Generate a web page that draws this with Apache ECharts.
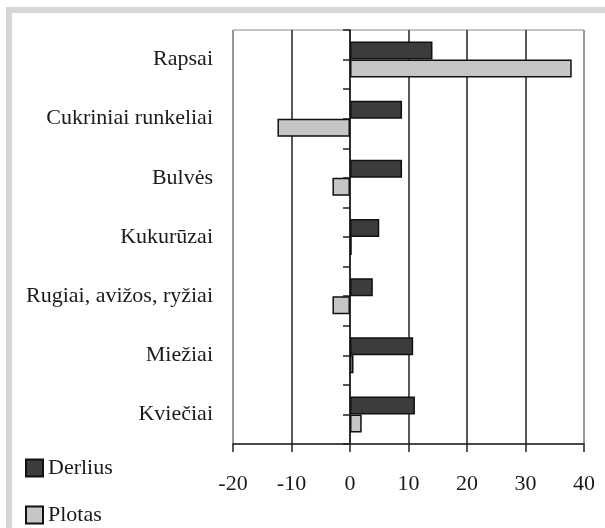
<!DOCTYPE html>
<html>
<head>
<meta charset="utf-8">
<script src="https://cdn.jsdelivr.net/npm/echarts@6/dist/echarts.min.js"></script>
<style>
  html, body { margin: 0; padding: 0; background: #fff; }
  #main { width: 605px; height: 528px; }
</style>
</head>
<body>
<div id="main"></div>
<script>
// categories top to bottom
const crops = ["Rapsai", "Cukriniai runkeliai", "Bulvės", "Kukurūzai", "Rugiai, avižos, ryžiai", "Miežiai", "Kviečiai"];
const derlius = [14.1, 8.9, 8.9, 5.0, 3.9, 10.8, 11.1];
const plotas = [37.9, -12.4, -3.0, 0.3, -3.0, 0.6, 2.0];
const xTicks = { min: -20, max: 40, interval: 10 };

const font = "'Liberation Serif', 'Times New Roman', serif";

// one legend per entry so they stack at the bottom-left
const legendBase = {
  left: 25,
  padding: 0,
  itemWidth: 17,
  itemHeight: 17,
  icon: "rect",
  textStyle: { fontFamily: font, fontSize: 22, color: "#1a1a1a" },
};

let option = {
  backgroundColor: "#fff",
  animation: false,
  // grey frame of the scanned figure (only top and left visible)
  graphic: [
    { type: "rect", left: 6, top: 7, shape: { width: 599, height: 6 }, style: { fill: "#d6d6d6" } },
    { type: "rect", left: 6, top: 7, shape: { width: 6, height: 521 }, style: { fill: "#d6d6d6" } },
  ],
  grid: {
    left: 233,
    right: 21,
    top: 30,
    bottom: 84,
    show: true,
    borderColor: "#8a8a8a",
    borderWidth: 1,
  },
  legend: [
    Object.assign({}, legendBase, { top: 457, data: ["Derlius"] }),
    Object.assign({}, legendBase, { top: 504, data: ["Plotas"] }),
  ],
  xAxis: {
    type: "value",
    min: xTicks.min,
    max: xTicks.max,
    interval: xTicks.interval,
    axisLine: { lineStyle: { color: "#222", width: 1.5 } },
    axisTick: { show: true, length: 8, lineStyle: { color: "#222", width: 1.5 } },
    axisLabel: { fontFamily: font, fontSize: 22, color: "#1a1a1a", margin: 29 },
    splitLine: {
      show: true,
      lineStyle: { color: ["#8a8a8a", "#222", "#222", "#222", "#222", "#222", "#8a8a8a"], width: 1.5 },
    },
  },
  yAxis: [
    {
      // labels on the left
      type: "category",
      data: crops,
      inverse: true,
      position: "left",
      axisLine: { show: false, onZero: false },
      axisTick: { show: false },
      axisLabel: { fontFamily: font, fontSize: 22, color: "#1a1a1a", margin: 20 },
    },
    {
      // zero line, ticks at category edges and centres
      type: "value",
      min: 0,
      max: 7,
      interval: 0.5,
      position: "left",
      axisLine: { show: true, onZero: true, lineStyle: { color: "#222", width: 1.5 } },
      axisTick: { show: true, length: 7, lineStyle: { color: "#222", width: 1.5 } },
      axisLabel: { show: false },
      splitLine: { show: false },
    },
  ],
  series: [
    {
      name: "Derlius",
      type: "bar",
      data: derlius,
      barWidth: 18,
      barGap: "0%",
      itemStyle: { color: "#3c3c3c", borderColor: "#111", borderWidth: 1.5 },
    },
    {
      name: "Plotas",
      type: "bar",
      data: plotas,
      barWidth: 18,
      barGap: "0%",
      itemStyle: { color: "#c6c6c6", borderColor: "#111", borderWidth: 1.5 },
    },
  ],
};

var myChart = echarts.init(document.getElementById("main"));
myChart.setOption(option);
</script>
</body>
</html>
